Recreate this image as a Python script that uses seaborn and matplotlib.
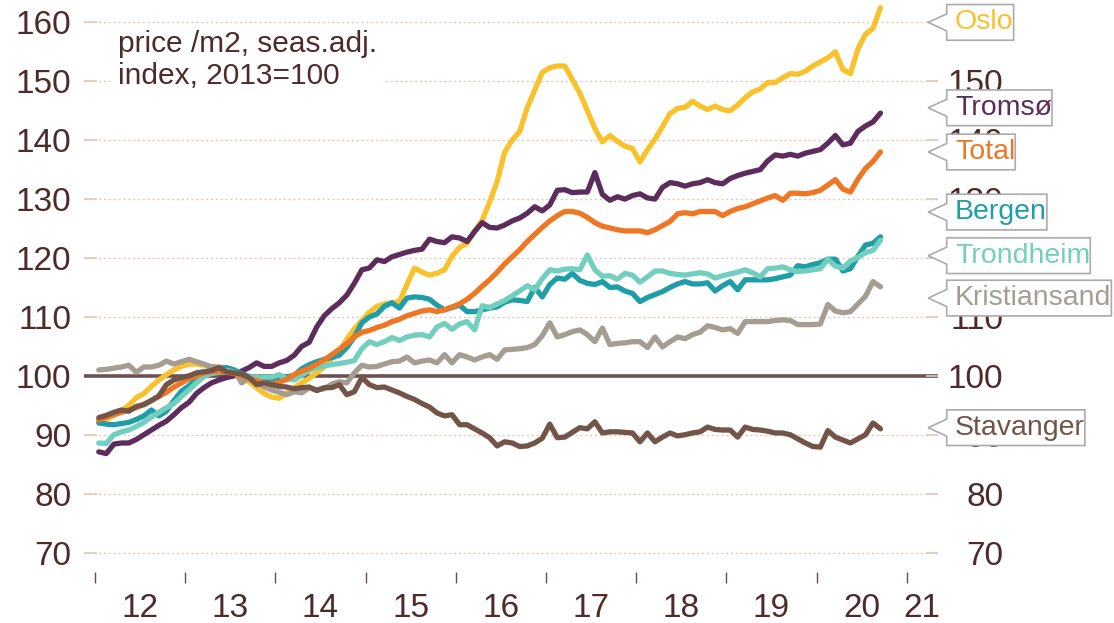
import numpy as np
import pandas as pd
import seaborn as sns
import matplotlib.pyplot as plt
from matplotlib.path import Path

# monthly index values, Jan 2012 - Sep 2020 (2013=100)
oslo = [92.2, 92.6, 93.3, 94.0, 95.0, 96.3, 97.0, 98.2, 99.3, 100.2, 101.0, 101.6,
        102.0, 102.0, 101.8, 101.6, 101.3, 100.8, 100.5, 99.8, 99.0, 98.0, 97.0, 96.4,
        96.2, 97.0, 98.0, 98.8, 99.6, 100.5, 101.5, 102.9, 104.2, 106.2, 108.0, 109.4,
        110.8, 111.8, 112.2, 112.4, 112.6, 115.5, 118.3, 117.6, 117.1, 117.4, 118.0, 120.3,
        121.8, 122.5, 124.5, 126.4, 129.5, 133.0, 138.0, 140.0, 141.5, 145.5, 148.5, 151.5,
        152.3, 152.6, 152.6, 150.3, 148.0, 145.0, 142.0, 139.7, 140.8, 139.8, 139.0, 138.6,
        136.3, 138.4, 140.2, 142.3, 144.5, 145.4, 145.6, 146.6, 145.8, 145.2, 145.8, 145.2,
        145.0, 146.0, 147.2, 148.2, 148.7, 149.8, 149.8, 150.6, 151.3, 151.2, 151.7, 152.6,
        153.3, 154.0, 155.0, 152.0, 151.3, 155.5, 158.0, 159.0, 162.5]
tromso = [87.1, 86.8, 88.4, 88.6, 88.6, 89.2, 90.0, 90.8, 91.6, 92.3, 93.4, 94.6,
          95.5, 97.0, 98.0, 98.8, 99.3, 99.7, 100.0, 100.8, 101.4, 102.2, 101.6, 101.6,
          102.2, 102.6, 103.5, 105.0, 105.7, 108.3, 110.2, 111.4, 112.4, 113.7, 115.7, 118.0,
          118.3, 119.7, 119.4, 120.2, 120.6, 121.0, 121.3, 121.5, 123.2, 122.8, 122.6, 123.6,
          123.4, 122.8, 124.5, 126.0, 125.2, 125.1, 125.6, 126.3, 126.8, 127.6, 128.7, 128.0,
          129.0, 131.5, 131.6, 131.1, 131.2, 131.2, 134.5, 130.8, 129.8, 130.4, 130.0, 130.6,
          130.9, 130.2, 130.0, 132.0, 132.8, 132.6, 132.2, 132.6, 132.8, 133.3, 132.8, 132.6,
          133.5, 134.0, 134.4, 134.7, 135.0, 136.5, 137.5, 137.3, 137.6, 137.3, 137.8, 138.1,
          138.4, 139.5, 140.8, 139.2, 139.5, 141.5, 142.4, 143.1, 144.6]
total = [92.5, 93.0, 93.4, 93.8, 94.2, 94.6, 95.2, 95.8, 96.5, 97.2, 98.1, 98.8,
         99.5, 100.0, 100.5, 100.7, 100.8, 100.6, 100.4, 100.0, 99.6, 99.2, 98.8, 98.6,
         98.9, 99.4, 100.2, 100.8, 101.3, 102.0, 102.7, 103.6, 104.5, 105.5, 106.6, 107.4,
         107.7, 108.2, 108.6, 109.2, 109.6, 110.2, 110.6, 111.0, 111.2, 110.9, 111.2, 111.7,
         112.2, 113.0, 114.0, 115.2, 116.3, 117.6, 119.0, 120.2, 121.4, 122.8, 124.0, 125.2,
         126.3, 127.2, 127.9, 127.9, 127.6, 126.9, 126.0, 125.4, 125.1, 124.8, 124.6, 124.6,
         124.6, 124.3, 124.8, 125.5, 126.2, 127.5, 127.7, 127.5, 127.9, 127.9, 127.9, 127.2,
         127.9, 128.4, 128.7, 129.2, 129.7, 130.2, 130.6, 129.8, 131.0, 131.0, 130.9, 131.1,
         131.5, 132.4, 133.3, 131.7, 131.2, 133.4, 135.2, 136.4, 138.0]
bergen = [92.0, 91.8, 91.7, 91.9, 92.1, 92.6, 93.2, 94.2, 93.2, 94.0, 95.8, 97.4,
          98.3, 99.5, 100.3, 100.9, 101.2, 101.4, 101.0, 100.4, 99.9, 99.5, 99.1, 99.2,
          99.8, 99.8, 100.1, 101.2, 101.9, 102.4, 102.8, 103.1, 103.5, 104.8, 106.6, 109.0,
          110.0, 110.5, 111.8, 112.4, 111.5, 113.2, 113.4, 113.3, 113.0, 112.0, 111.2, 111.6,
          112.0, 110.9, 110.9, 111.2, 111.5, 111.7, 112.5, 112.9, 112.8, 112.6, 115.0, 113.4,
          115.5, 116.6, 116.4, 117.4, 116.2, 115.7, 115.5, 116.0, 115.0, 115.1, 114.4, 114.0,
          112.6, 113.3, 113.8, 114.3, 115.0, 115.6, 116.0, 115.6, 115.6, 115.8, 114.4, 115.3,
          116.0, 114.6, 116.3, 116.3, 116.3, 116.3, 116.5, 116.8, 117.1, 118.7, 118.5, 118.9,
          119.2, 119.8, 119.8, 117.8, 118.2, 120.3, 122.2, 122.5, 123.6]
trondheim = [88.6, 88.5, 90.0, 90.5, 90.8, 91.4, 92.1, 93.0, 93.8, 94.6, 95.3, 96.5,
             97.6, 98.8, 99.9, 100.4, 100.6, 100.9, 100.6, 100.2, 99.8, 99.8, 99.8, 99.8,
             100.2, 99.5, 99.3, 100.1, 100.9, 101.4, 101.7, 101.9, 102.1, 102.3, 102.6, 104.6,
             105.8, 105.3, 105.8, 106.5, 106.0, 106.6, 106.9, 107.0, 106.6, 108.3, 108.9, 107.9,
             108.8, 109.2, 107.8, 111.9, 111.6, 112.2, 112.8, 113.6, 114.4, 115.3, 114.6, 116.5,
             118.0, 117.8, 118.1, 118.2, 118.0, 120.5, 118.0, 116.9, 117.0, 116.4, 117.4, 117.1,
             115.9, 116.8, 117.8, 117.8, 117.4, 117.2, 117.1, 117.3, 117.5, 117.3, 116.6, 117.0,
             117.3, 117.6, 118.0, 117.5, 116.8, 118.2, 118.3, 118.5, 118.0, 117.7, 117.8, 118.0,
             118.2, 119.8, 118.6, 118.3, 119.5, 120.1, 120.9, 121.3, 123.0]
kristiansand = [101.0, 101.1, 101.3, 101.5, 101.8, 100.6, 101.5, 101.5, 101.8, 102.5, 102.0, 102.4,
                102.8, 102.4, 102.0, 101.5, 101.5, 101.3, 101.0, 98.8, 99.7, 99.0, 98.1, 97.6,
                97.2, 96.8, 97.3, 97.1, 98.0, 97.6, 97.8, 98.6, 99.0, 98.8, 100.5, 101.8,
                101.5, 101.6, 102.0, 102.4, 102.5, 103.2, 102.2, 102.5, 102.7, 102.2, 103.6, 102.2,
                103.6, 103.2, 102.7, 103.2, 103.6, 102.8, 104.4, 104.5, 104.6, 104.8, 105.3, 106.8,
                109.0, 106.6, 107.0, 107.5, 107.8, 107.0, 105.8, 108.1, 105.3, 105.5, 105.6, 105.8,
                105.8, 104.8, 106.6, 104.9, 105.8, 106.6, 106.3, 107.0, 107.4, 108.5, 108.2, 107.8,
                108.0, 107.2, 109.2, 109.2, 109.2, 109.2, 109.4, 109.5, 109.4, 108.7, 108.7, 108.7,
                108.8, 112.1, 111.0, 110.7, 110.9, 112.2, 113.5, 116.0, 115.1]
stavanger = [92.9, 93.3, 93.8, 94.2, 94.0, 94.8, 95.1, 95.8, 96.6, 98.5, 99.3, 99.7,
             100.0, 100.5, 100.7, 100.9, 101.4, 100.7, 100.5, 100.3, 99.7, 98.5, 98.8, 98.5,
             98.2, 98.1, 97.8, 98.0, 98.1, 97.5, 98.0, 98.0, 98.5, 96.8, 97.3, 99.7,
             98.5, 98.0, 98.1, 97.6, 97.1, 96.5, 96.0, 95.3, 94.7, 93.7, 93.2, 93.4,
             91.7, 91.7, 91.0, 90.3, 89.5, 88.1, 88.8, 88.6, 88.0, 88.1, 88.6, 89.4,
             91.8, 89.5, 89.6, 90.4, 91.2, 91.0, 92.2, 90.3, 90.5, 90.5, 90.4, 90.3,
             88.8, 90.3, 88.8, 89.6, 90.3, 89.8, 90.0, 90.3, 90.5, 91.3, 90.9, 90.8,
             90.8, 89.6, 91.3, 90.9, 90.8, 90.6, 90.3, 90.3, 90.0, 89.3, 88.6, 88.0,
             87.9, 90.7, 89.6, 89.1, 88.6, 89.3, 90.0, 92.0, 91.0]

cities = ['Oslo', 'Tromsø', 'Total', 'Bergen', 'Trondheim', 'Kristiansand', 'Stavanger']
series = [oslo, tromso, total, bergen, trondheim, kristiansand, stavanger]
colors = ['#f9c12c', '#5c2d5c', '#ef7724', '#1f9ea8', '#72cfc0', '#a59d91', '#725548']
label_y = [160.0, 145.5, 138.0, 127.8, 120.4, 113.2, 91.2]
year_labels = ['12', '13', '14', '15', '16', '17', '18', '19', '20', '21']

text_c = '#4f2a2a'
grid_c = '#e0c9b9'

# time axis: mid-month, decimal years
t = 2012 + (np.arange(len(oslo)) + 0.5) / 12
df = pd.DataFrame({c: s for c, s in zip(cities, series)})
df['t'] = t
long = df.melt(id_vars='t', var_name='city', value_name='index')

sns.set_style('white')
plt.rcParams['font.family'] = ['Liberation Sans', 'DejaVu Sans']

fig = plt.figure(figsize=(11.14, 6.23), dpi=100)
ax = fig.add_axes([84 / 1114, 51 / 623, 854 / 1114, 572 / 623])

ax.axhline(100, color='#6d5151', lw=2.6, zorder=1.8)
draw_order = ['Oslo', 'Tromsø', 'Kristiansand', 'Bergen', 'Trondheim', 'Total', 'Stavanger']
sns.lineplot(data=long, x='t', y='index', hue='city', hue_order=draw_order,
             palette=dict(zip(cities, colors)), lw=3.8, legend=False, ax=ax, zorder=2)

ylim = (66.7, 163.8)
ax.set_ylim(*ylim)
ax.set_xlim(2011.878, 2021.346)
ax.set_xlabel('')
ax.set_ylabel('')
for s in ax.spines.values():
    s.set_visible(False)

ax.set_yticks(range(70, 161, 10))
ax.tick_params(axis='y', left=True, direction='in', length=9, width=1.2, color=grid_c,
               labelsize=24, labelcolor=text_c, pad=9)
ax.grid(axis='y', color=grid_c, linestyle=(0, (1.5, 2)), linewidth=1)
ax.grid(axis='x', visible=False)
ax.set_axisbelow(True)

ax.set_xticks(range(2012, 2022))
ax.set_xticklabels([''] * 10)
ax.set_xticks([2012.5 + i for i in range(9)] + [2021.17], minor=True)
ax.set_xticklabels(year_labels, minor=True)
ax.tick_params(axis='x', which='major', bottom=True, length=8, width=1,
               color='#6a4e4e', direction='out', pad=3)
ax.tick_params(axis='x', which='minor', bottom=True, length=0, labelsize=24,
               labelcolor=text_c, pad=15)

ax.text(0.04, 0.948, 'price /m2, seas.adj.\nindex, 2013=100', transform=ax.transAxes,
        ha='left', va='top', fontsize=21.5, color=text_c, linespacing=1.2,
        bbox=dict(fc='white', ec='none', pad=4), zorder=4)

# right axis with the same scale
ax2 = ax.twinx()
ax2.set_ylim(*ylim)
ax2.set_yticks(range(70, 161, 10))
ax2.tick_params(axis='y', right=True, direction='in', length=9, width=1.2, color=grid_c,
                labelsize=24, labelcolor=text_c, pad=47)
for lab in ax2.get_yticklabels():
    lab.set_horizontalalignment('right')
ax2.grid(False)
for s in ax2.spines.values():
    s.set_visible(False)


def callout(x0, y0, width, height, mutation_size):
    m = mutation_size
    l, r = x0 - 0.29 * m, x0 + width
    b, tp = y0 - 0.17 * m, y0 + height + 0.17 * m
    cy = (b + tp) / 2
    verts = [(l, b), (r, b), (r, tp), (l, tp), (l, cy + 0.3 * m),
             (l - 0.65 * m, cy), (l, cy - 0.3 * m), (l, b)]
    codes = [Path.MOVETO] + [Path.LINETO] * 6 + [Path.CLOSEPOLY]
    return Path(verts, codes)


for city, c, y in zip(cities, colors, label_y):
    ax2.text(1.0199, y, city, transform=ax2.get_yaxis_transform(), ha='left', va='center',
             fontsize=20.5, color=c, zorder=6, clip_on=False,
             bbox=dict(boxstyle=callout, fc='white', ec='#ababab', lw=1.2))

fig.savefig('out.png', dpi=100)
